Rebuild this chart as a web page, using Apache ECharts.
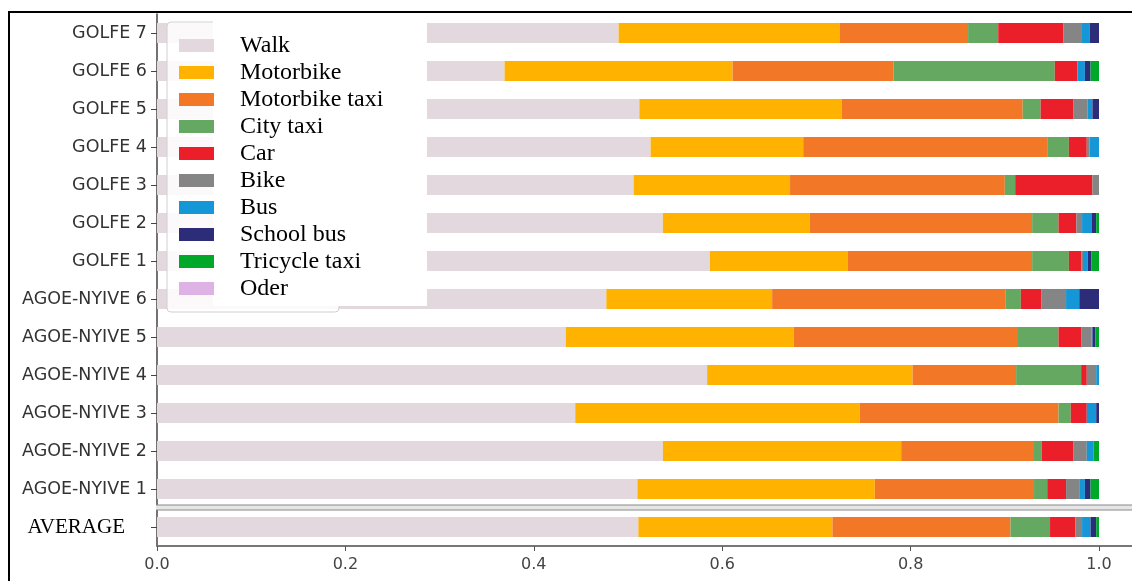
<!DOCTYPE html>
<html>
<head>
<meta charset="utf-8">
<title>Transport modes</title>
<script src="https://cdn.jsdelivr.net/npm/echarts@6/dist/echarts.min.js"></script>
<style>
  html, body { margin: 0; padding: 0; background: #fff; }
  #main { width: 1132px; height: 581px; }
</style>
</head>
<body>
<div id="main"></div>
<script>
// categories from bottom to top
var categories = ['AVERAGE', 'AGOE-NYIVE 1', 'AGOE-NYIVE 2', 'AGOE-NYIVE 3', 'AGOE-NYIVE 4', 'AGOE-NYIVE 5', 'AGOE-NYIVE 6',
                  'GOLFE 1', 'GOLFE 2', 'GOLFE 3', 'GOLFE 4', 'GOLFE 5', 'GOLFE 6', 'GOLFE 7'];

var walk          = [0.511, 0.510, 0.537, 0.444, 0.584, 0.434, 0.477, 0.587, 0.537, 0.506, 0.524, 0.512, 0.369, 0.490];
var motorbike     = [0.206, 0.252, 0.253, 0.302, 0.218, 0.242, 0.176, 0.146, 0.156, 0.166, 0.162, 0.215, 0.242, 0.235];
var motorbikeTaxi = [0.189, 0.169, 0.140, 0.211, 0.110, 0.238, 0.248, 0.196, 0.236, 0.228, 0.259, 0.192, 0.171, 0.136];
var cityTaxi      = [0.042, 0.014, 0.009, 0.013, 0.069, 0.043, 0.016, 0.039, 0.028, 0.011, 0.023, 0.019, 0.171, 0.032];
var car           = [0.027, 0.020, 0.034, 0.017, 0.006, 0.024, 0.022, 0.013, 0.019, 0.082, 0.019, 0.035, 0.024, 0.069];
var bike          = [0.007, 0.014, 0.014, 0.000, 0.010, 0.011, 0.026, 0.002, 0.006, 0.007, 0.003, 0.015, 0.000, 0.019];
var bus           = [0.009, 0.006, 0.007, 0.010, 0.003, 0.001, 0.014, 0.005, 0.010, 0.000, 0.010, 0.005, 0.008, 0.009];
var schoolBus     = [0.006, 0.006, 0.000, 0.003, 0.000, 0.003, 0.021, 0.004, 0.005, 0.000, 0.000, 0.007, 0.006, 0.010];
var tricycleTaxi  = [0.003, 0.009, 0.006, 0.000, 0.000, 0.004, 0.000, 0.008, 0.003, 0.000, 0.000, 0.000, 0.009, 0.000];
var oder          = [0, 0, 0, 0, 0, 0, 0, 0, 0, 0, 0, 0, 0, 0];

var modeNames  = ['Walk', 'Motorbike', 'Motorbike taxi', 'City taxi', 'Car', 'Bike', 'Bus', 'School bus', 'Tricycle taxi', 'Oder'];
var modeValues = [walk, motorbike, motorbikeTaxi, cityTaxi, car, bike, bus, schoolBus, tricycleTaxi, oder];
var modeColors = ['#e2d8dd', '#ffb300', '#f27828', '#64a862', '#ea1f29', '#858585', '#1596d6', '#2c2c78', '#00a82a', '#dfb2e6'];

var xTicks = [0, 0.2, 0.4, 0.6, 0.8, 1.0];

function buildSeries() {
	var res = [];
	for (var i = 0; i < modeNames.length; i++) {
		res.push({
			name: modeNames[i],
			type: 'bar',
			stack: 'total',
			barWidth: 20,
			itemStyle: { color: modeColors[i] },
			emphasis: { disabled: true },
			data: modeValues[i]
		});
	}
	return res;
}

function onloadEChart() {
	var myChart = echarts.init(document.getElementById('main'), null, { renderer: 'canvas' });
	var option = {
		animation: false,
		color: modeColors,
		grid: { left: 157, right: 0, top: 14, bottom: 35 },
		legend: {
			orient: 'vertical',
			left: 174,
			top: 27,
			z: 20,
			icon: 'rect',
			itemWidth: 35,
			itemHeight: 13,
			itemGap: 0,
			selectedMode: false,
			data: modeNames,
			textStyle: {
				fontFamily: 'Liberation Serif',
				fontSize: 24,
				color: '#000',
				lineHeight: 27,
				padding: [0, 0, 0, 21]
			}
		},
		xAxis: {
			type: 'value',
			min: 0,
			max: 1.035,
			interval: 0.2,
			splitLine: { show: false },
			axisLine: { show: true, lineStyle: { color: '#777', width: 2 } },
			axisTick: { show: true, length: 5, customValues: xTicks, lineStyle: { color: '#555' } },
			axisLabel: {
				customValues: xTicks,
				margin: 11,
				fontFamily: 'DejaVu Sans',
				fontSize: 16,
				color: '#444',
				formatter: function (v) { return v.toFixed(1); }
			}
		},
		yAxis: {
			type: 'category',
			data: categories,
			axisLine: { show: true, lineStyle: { color: '#444', width: 1.5 } },
			axisTick: { show: true, alignWithLabel: true, length: 6, lineStyle: { color: '#444' } },
			splitLine: { show: false },
			axisLabel: {
				margin: 10,
				fontFamily: 'DejaVu Sans',
				fontSize: 17.5,
				color: '#333',
				formatter: function (v) {
					if (v === 'AVERAGE') return '{avg|' + v + '}';
					return v;
				},
				rich: {
					avg: {
						fontFamily: 'Liberation Serif',
						fontSize: 21,
						color: '#000',
						padding: [0, 22, 0, 0]
					}
				}
			}
		},
		graphic: [
			// outer frame
			{ id: 'frameTop', type: 'line', z: 30, shape: { x1: 8, y1: 12, x2: 1132, y2: 12 }, style: { stroke: '#000', lineWidth: 2 } },
			{ id: 'frameLeft', type: 'line', z: 30, shape: { x1: 9, y1: 12, x2: 9, y2: 581 }, style: { stroke: '#000', lineWidth: 2 } },
			// legend frame and white text box on top of the bars
			{ id: 'legFrame', type: 'rect', z: 10, shape: { x: 167, y: 22, width: 172, height: 290, r: 4 },
			  style: { fill: 'rgba(255,255,255,0.85)', stroke: '#d0d0d0', lineWidth: 1 } },
			{ id: 'legBox', type: 'rect', z: 11, shape: { x: 213, y: 14, width: 214, height: 292 }, style: { fill: '#fff' } }
		],
		series: buildSeries()
	};
	myChart.setOption(option);

	// separator between AVERAGE and the districts, half way between the two rows
	var yAvg = myChart.convertToPixel({ yAxisIndex: 0 }, 'AVERAGE');
	var yOne = myChart.convertToPixel({ yAxisIndex: 0 }, 'AGOE-NYIVE 1');
	var mid = (yAvg + yOne) / 2;
	var x0 = myChart.convertToPixel({ xAxisIndex: 0 }, 0) - 1;
	myChart.setOption({
		graphic: [
			{ id: 'sepBand', type: 'rect', z: 5, shape: { x: x0, y: mid - 3, width: 1132 - x0, height: 5 }, style: { fill: '#e6e6e6' } },
			{ id: 'sepTop', type: 'line', z: 6, shape: { x1: x0, y1: mid - 3, x2: 1132, y2: mid - 3 }, style: { stroke: '#8a8a8a', lineWidth: 1.2 } },
			{ id: 'sepBot', type: 'line', z: 6, shape: { x1: x0, y1: mid + 2, x2: 1132, y2: mid + 2 }, style: { stroke: '#8a8a8a', lineWidth: 1.2 } }
		]
	});
}

onloadEChart();
</script>
</body>
</html>
